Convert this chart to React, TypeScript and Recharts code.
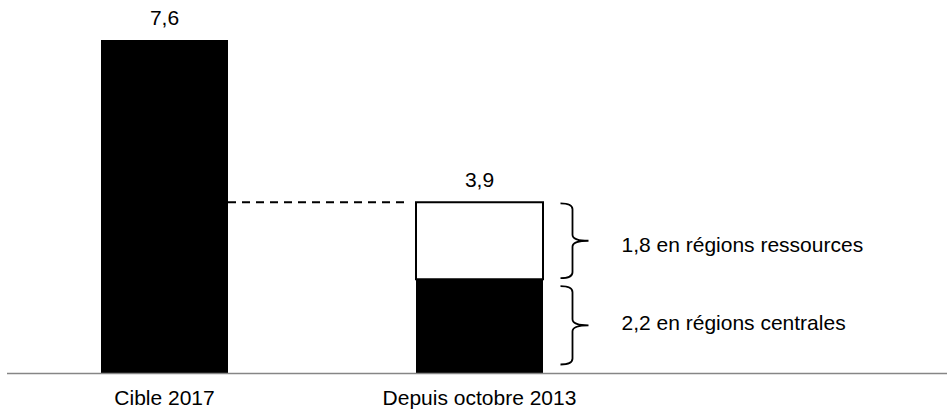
import {
  BarChart,
  Bar,
  XAxis,
  YAxis,
  LabelList,
  ReferenceLine,
  ReferenceArea,
} from "recharts";

const categories = ["Cible 2017", "Depuis octobre 2013"];
const cible = [7.6, null];
const centrales = [null, 2.15];
const ressources = [null, 1.75];
const totals = [7.6, 3.9];
const braceLabels = ["2,2 en régions centrales", "1,8 en régions ressources"];

const FONT = "'Liberation Sans', Arial, sans-serif";
const FS = 21;
const BAR = 127;

const data = categories.map((name, i) => ({
  name,
  cible: cible[i],
  centrales: centrales[i],
  ressources: ressources[i],
  total: totals[i],
}));

const fmt = (v: number) => String(v).replace(".", ",");

const ValueLabel = (props: any) => {
  const { x, y, width, height, value } = props;
  if (value == null || !height) return null;
  return (
    <text
      x={x + width / 2}
      y={y - 15}
      textAnchor="middle"
      fontSize={FS}
      fontFamily={FONT}
      fill="#000"
    >
      {fmt(value)}
    </text>
  );
};

// accolade + texte à droite de la barre empilée
const brace = (label: string, insetTop: number, insetBottom: number, textDy: number) =>
  (props: any) => {
    const { x, y, width, height } = props;
    const cx = x + width / 2;
    const a = cx + 81;
    const b = cx + 93;
    const c = cx + 109;
    const top = y + insetTop;
    const bottom = y + height - insetBottom;
    const mid = (top + bottom) / 2;
    const r = 6;
    const d = `M${a},${top} Q${b},${top} ${b},${top + r} L${b},${mid - r} Q${b},${mid} ${c},${mid} Q${b},${mid} ${b},${mid + r} L${b},${bottom - r} Q${b},${bottom} ${a},${bottom}`;
    return (
      <g>
        <path d={d} fill="none" stroke="#000" strokeWidth={1.8} />
        <text
          x={cx + 142}
          y={mid + textDy}
          dominantBaseline="central"
          fontSize={FS}
          fontFamily={FONT}
          fill="#000"
        >
          {label}
        </text>
      </g>
    );
  };

const DashedLink = (props: any) => {
  const { x1, y1, x2, y2 } = props;
  return (
    <line
      x1={x1 + BAR / 2}
      y1={y1}
      x2={x2 - BAR / 2 - 6}
      y2={y2}
      stroke="#000"
      strokeWidth={2}
      strokeDasharray="8 6"
    />
  );
};

export default function App() {
  return (
    <div style={{ position: "absolute", left: 0, top: 0 }}>
      <BarChart
        width={947}
        height={411}
        data={data}
        margin={{ top: 40, right: 0, left: 7, bottom: 7.5 }}
      >
        <XAxis
          dataKey="name"
          height={30}
          padding={{ left: 0, right: 310 }}
          tickLine={false}
          axisLine={{ stroke: "#868686", strokeWidth: 1.5 }}
          tickMargin={11}
          tick={{ fill: "#000", fontSize: FS, fontFamily: FONT }}
          interval={0}
        />
        <YAxis hide domain={[0, totals[0]]} />
        <Bar dataKey="cible" stackId="a" fill="#000" barSize={BAR} isAnimationActive={false}>
          <LabelList dataKey="total" content={ValueLabel} />
        </Bar>
        <Bar dataKey="centrales" stackId="a" fill="#000" barSize={BAR} isAnimationActive={false} />
        <Bar
          dataKey="ressources"
          stackId="a"
          fill="#fff"
          stroke="#000"
          strokeWidth={2}
          barSize={BAR}
          isAnimationActive={false}
        >
          <LabelList dataKey="total" content={ValueLabel} />
        </Bar>
        <ReferenceLine
          segment={[
            { x: categories[0], y: totals[1] },
            { x: categories[1], y: totals[1] },
          ]}
          shape={DashedLink}
          ifOverflow="visible"
        />
        <ReferenceArea
          x1={categories[1]}
          x2={categories[1]}
          y1={0}
          y2={centrales[1] as number}
          ifOverflow="visible"
          shape={brace(braceLabels[0], 7, 9, -3)}
        />
        <ReferenceArea
          x1={categories[1]}
          x2={categories[1]}
          y1={centrales[1] as number}
          y2={totals[1]}
          ifOverflow="visible"
          shape={brace(braceLabels[1], 1, 1, 4)}
        />
      </BarChart>
    </div>
  );
}
